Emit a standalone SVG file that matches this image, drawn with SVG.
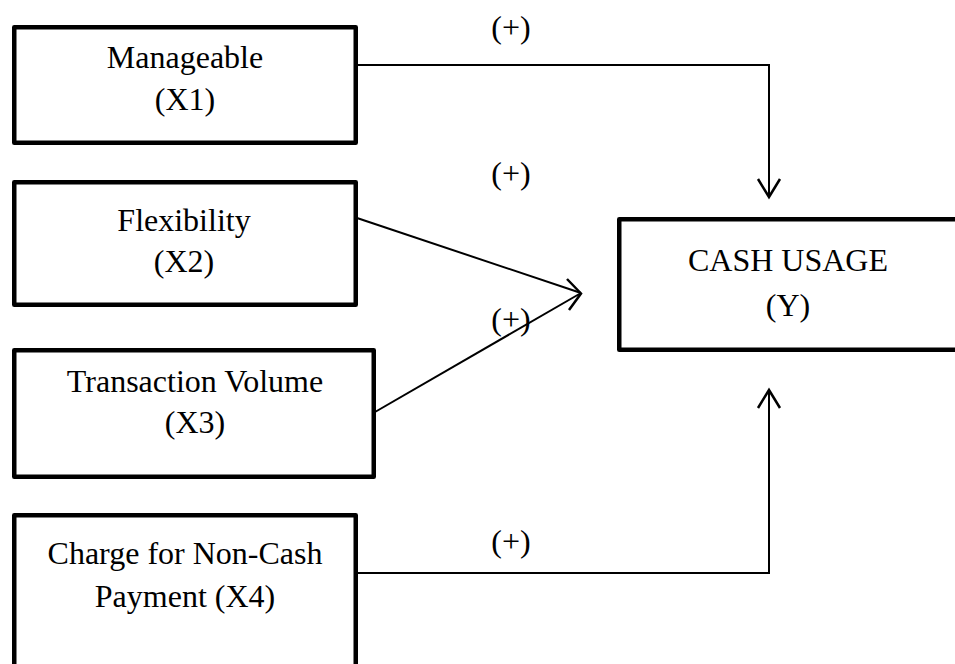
<svg xmlns="http://www.w3.org/2000/svg" width="955" height="664" viewBox="0 0 955 664">
  <style>
    .box { fill: #ffffff; stroke: #000000; stroke-width: 4.5; stroke-linejoin: round; }
    .lbl { font-family: "Liberation Serif", "Times New Roman", serif; font-size: 32px; fill: #000000; text-anchor: middle; }
    .edge { fill: none; stroke: #000000; stroke-width: 2; }
    .head { fill: none; stroke: #000000; stroke-width: 2.5; stroke-linejoin: miter; stroke-linecap: butt; }
  </style>
  <defs>
    <marker id="chevron" markerUnits="userSpaceOnUse" markerWidth="30" markerHeight="30" viewBox="-20 -15 24 30" refX="0" refY="0" orient="auto">
      <path class="head" d="M-18,-11 L0,0 L-18,11"/>
    </marker>
  </defs>

  <rect width="955" height="664" fill="#ffffff"/>

  <!-- connectors -->
  <g id="connectors">
    <path class="edge" d="M358,65 H769 V197" marker-end="url(#chevron)"/>
    <path class="edge" d="M357,218 L581,293"/>
    <path class="edge" d="M375,412 L581,293"/>
    <path class="head" d="M567,279 L581,293.5 L569,310"/>
    <path class="edge" d="M358,573 H769 V390" marker-end="url(#chevron)"/>
    <text class="lbl" x="511" y="38">(+)</text>
    <text class="lbl" x="511" y="184">(+)</text>
    <text class="lbl" x="511" y="330">(+)</text>
    <text class="lbl" x="511" y="552">(+)</text>
  </g>

  <g id="x1">
    <rect class="box" x="14.25" y="27.25" width="341.5" height="115.5"/>
    <text class="lbl" x="185" y="68">Manageable</text>
    <text class="lbl" x="185" y="110">(X1)</text>
  </g>

  <g id="x2">
    <rect class="box" x="14.25" y="182.25" width="341.5" height="122.5"/>
    <text class="lbl" x="184" y="231">Flexibility</text>
    <text class="lbl" x="184" y="272">(X2)</text>
  </g>

  <g id="x3">
    <rect class="box" x="14.25" y="350.25" width="359.5" height="126.5"/>
    <text class="lbl" x="195" y="392">Transaction Volume</text>
    <text class="lbl" x="195" y="433">(X3)</text>
  </g>

  <g id="x4">
    <rect class="box" x="14.25" y="515.25" width="341.5" height="200"/>
    <text class="lbl" x="185" y="564">Charge for Non-Cash</text>
    <text class="lbl" x="185" y="607">Payment (X4)</text>
  </g>

  <g id="y">
    <rect class="box" x="619.25" y="219.25" width="400" height="130.5"/>
    <text class="lbl" x="788" y="271">CASH USAGE</text>
    <text class="lbl" x="788" y="316">(Y)</text>
  </g>
</svg>
